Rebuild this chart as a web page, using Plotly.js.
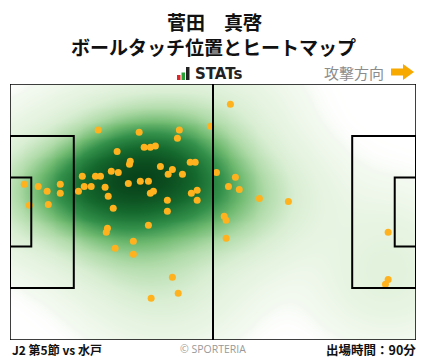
<!DOCTYPE html>
<html><head><meta charset="utf-8">
<script src="https://cdn.plot.ly/plotly-3.0.1.min.js"></script>
<style>html,body{margin:0;padding:0;background:#fff;}#chart{width:428px;height:359px;}</style>
</head><body><div id="chart"></div>
<script>
// Ball touch positions (pitch metres: x 0-105 attacking right, y 0-68)
const touchX = [22.8,33.4,43.8,51.9,43.3,34.7,36.3,37.6,27.7,31.1,30.9,38.9,46.6,47.9,42.0,40.9,44.6,18.7,22.1,23.4,26.2,28.0,30.6,33.7,35.8,3.7,7.3,9.6,13.0,13.0,19.2,21.0,17.7,24.6,25.4,37.1,36.3,46.9,48.4,40.7,48.4,5.0,9.9,26.7,40.7,35.8,25.2,24.9,31.9,27.2,31.9,42.0,43.5,36.5,57.0,53.4,58.3,56.5,59.3,64.5,72.0,55.4,55.9,55.9,97.8,97.8,97.1];
const touchY = [55.8,55.2,55.8,56.8,53.6,51.2,51.2,51.5,50.1,47.5,46.7,46.1,47.2,47.2,45.3,44.0,44.0,43.5,43.5,43.5,44.8,44.5,41.6,42.2,42.2,41.4,40.8,39.5,41.4,39.0,40.8,40.8,39.5,40.6,38.2,39.5,39.0,39.0,39.8,37.1,37.1,35.8,36.0,35.0,34.2,30.5,29.7,28.6,26.2,24.4,22.8,16.7,12.4,11.1,62.6,44.5,43.2,40.8,40.0,37.6,36.8,32.9,31.8,27.0,28.6,16.1,14.8];

const titleLine1 = '菅田　真啓';
const titleLine2 = 'ボールタッチ位置とヒートマップ';
const footerLeft = 'J2 第5節 vs 水戸';
const footerRight = '出場時間：90分';

// KDE density grid from touches
const L = 105, W = 68, bwx = 11, bwy = 9;
const gx = [], gy = [];
for (let i = 0; i <= L; i += 1) gx.push(i);
for (let j = 0; j <= W; j += 1) gy.push(j);
const z = gy.map(yv => gx.map(xv => {
  let s = 0;
  for (let k = 0; k < touchX.length; k++) {
    const dx = (xv - touchX[k]) / bwx, dy = (yv - touchY[k]) / bwy;
    s += Math.exp(-0.5 * (dx * dx + dy * dy));
  }
  return s;
}));
const zmax = Math.max(...z.map(r => Math.max(...r)));

// pixel helpers for header decorations
const PL = 10, PR = 416, PT = 84, PB = 340;
const px = v => (v - PL) / (PR - PL);
const py = v => (PB - v) / (PB - PT);

const lineBlack = {color: '#000', width: 2};
const shapes = [
  {type:'rect', x0:0, x1:L, y0:0, y1:W, line:{color:'#000', width:1.5}},
  {type:'line', x0:L/2, x1:L/2, y0:0, y1:W, line:lineBlack},
  {type:'rect', x0:0, x1:16.5, y0:13.84, y1:54.16, line:lineBlack},
  {type:'rect', x0:0, x1:5.5, y0:24.84, y1:43.16, line:lineBlack},
  {type:'rect', x0:L-16.5, x1:L, y0:13.84, y1:54.16, line:lineBlack},
  {type:'rect', x0:L-5.5, x1:L, y0:24.84, y1:43.16, line:lineBlack},
  // STATs icon
  {type:'rect', xref:'paper', yref:'paper', x0:px(177), x1:px(180.5), y0:py(80), y1:py(75), fillcolor:'#e0262b', line:{width:0}},
  {type:'rect', xref:'paper', yref:'paper', x0:px(181.5), x1:px(185), y0:py(80), y1:py(72.5), fillcolor:'#2aa136', line:{width:0}},
  {type:'rect', xref:'paper', yref:'paper', x0:px(186), x1:px(189.5), y0:py(80), y1:py(67), fillcolor:'#222', line:{width:0}},
  // attack direction arrow
  {type:'path', xref:'paper', yref:'paper',
   path:`M ${px(391)} ${py(68.5)} L ${px(403)} ${py(68.5)} L ${px(403)} ${py(64)} L ${px(414)} ${py(72)} L ${px(403)} ${py(80)} L ${px(403)} ${py(75.5)} L ${px(391)} ${py(75.5)} Z`,
   fillcolor:'#f7a900', line:{width:0}}
];

const cjk = '"Noto Sans CJK JP", "Noto Sans", sans-serif';
const base = {xref:'paper', yref:'paper', showarrow:false, yanchor:'middle', borderpad:0};
const annotations = [
  Object.assign({}, base, {text:titleLine1, x:px(214), xanchor:'center', y:py(21.5), font:{family:cjk, size:19, color:'#111', weight:700}}),
  Object.assign({}, base, {text:titleLine2, x:px(213.5), xanchor:'center', y:py(46.5), font:{family:cjk, size:19, color:'#111', weight:700}}),
  Object.assign({}, base, {text:'STATs', x:px(194), xanchor:'left', y:py(73.5), font:{family:'"DejaVu Sans", sans-serif', size:15, color:'#222', weight:700}}),
  Object.assign({}, base, {text:'攻撃方向', x:px(385), xanchor:'right', y:py(72), font:{family:cjk, size:15, color:'#8c8c8c'}}),
  Object.assign({}, base, {text:footerLeft, x:px(11), xanchor:'left', y:py(349.5), font:{family:cjk, size:12, color:'#111', weight:700}}),
  Object.assign({}, base, {text:'© SPORTERIA', x:px(213), xanchor:'center', y:py(349), font:{family:'"Open Sans", sans-serif', size:10.5, color:'#999'}}),
  Object.assign({}, base, {text:footerRight, x:px(417), xanchor:'right', y:py(349.5), font:{family:cjk, size:12.5, color:'#111', weight:700}})
];

const traces = [
  {type:'heatmap', x:gx, y:gy, z:z, zmin:0, zmax:zmax, zsmooth:'best', showscale:false, hoverinfo:'skip',
   colorscale:[[0,'rgba(255,255,255,0)'],[0.012,'#f3f9f0'],[0.05,'#e9f5e4'],[0.15,'#d9eed3'],[0.3,'#aedaa7'],[0.45,'#70ba71'],[0.6,'#33904a'],[0.78,'#15692e'],[1,'#08431a']]},
  {type:'scatter', mode:'markers', x:touchX, y:touchY, hoverinfo:'skip',
   marker:{size:7, color:'#ffb21e', line:{width:0}}}
];

const layout = {
  width:428, height:359,
  margin:{l:PL, r:428-PR, t:PT, b:359-PB, pad:0},
  paper_bgcolor:'#fff', plot_bgcolor:'#fff',
  xaxis:{range:[0,L], visible:false, fixedrange:true},
  yaxis:{range:[0,W], visible:false, fixedrange:true},
  showlegend:false, shapes:shapes, annotations:annotations
};
Plotly.newPlot('chart', traces, layout, {staticPlot:true, displayModeBar:false});
</script></body></html>
